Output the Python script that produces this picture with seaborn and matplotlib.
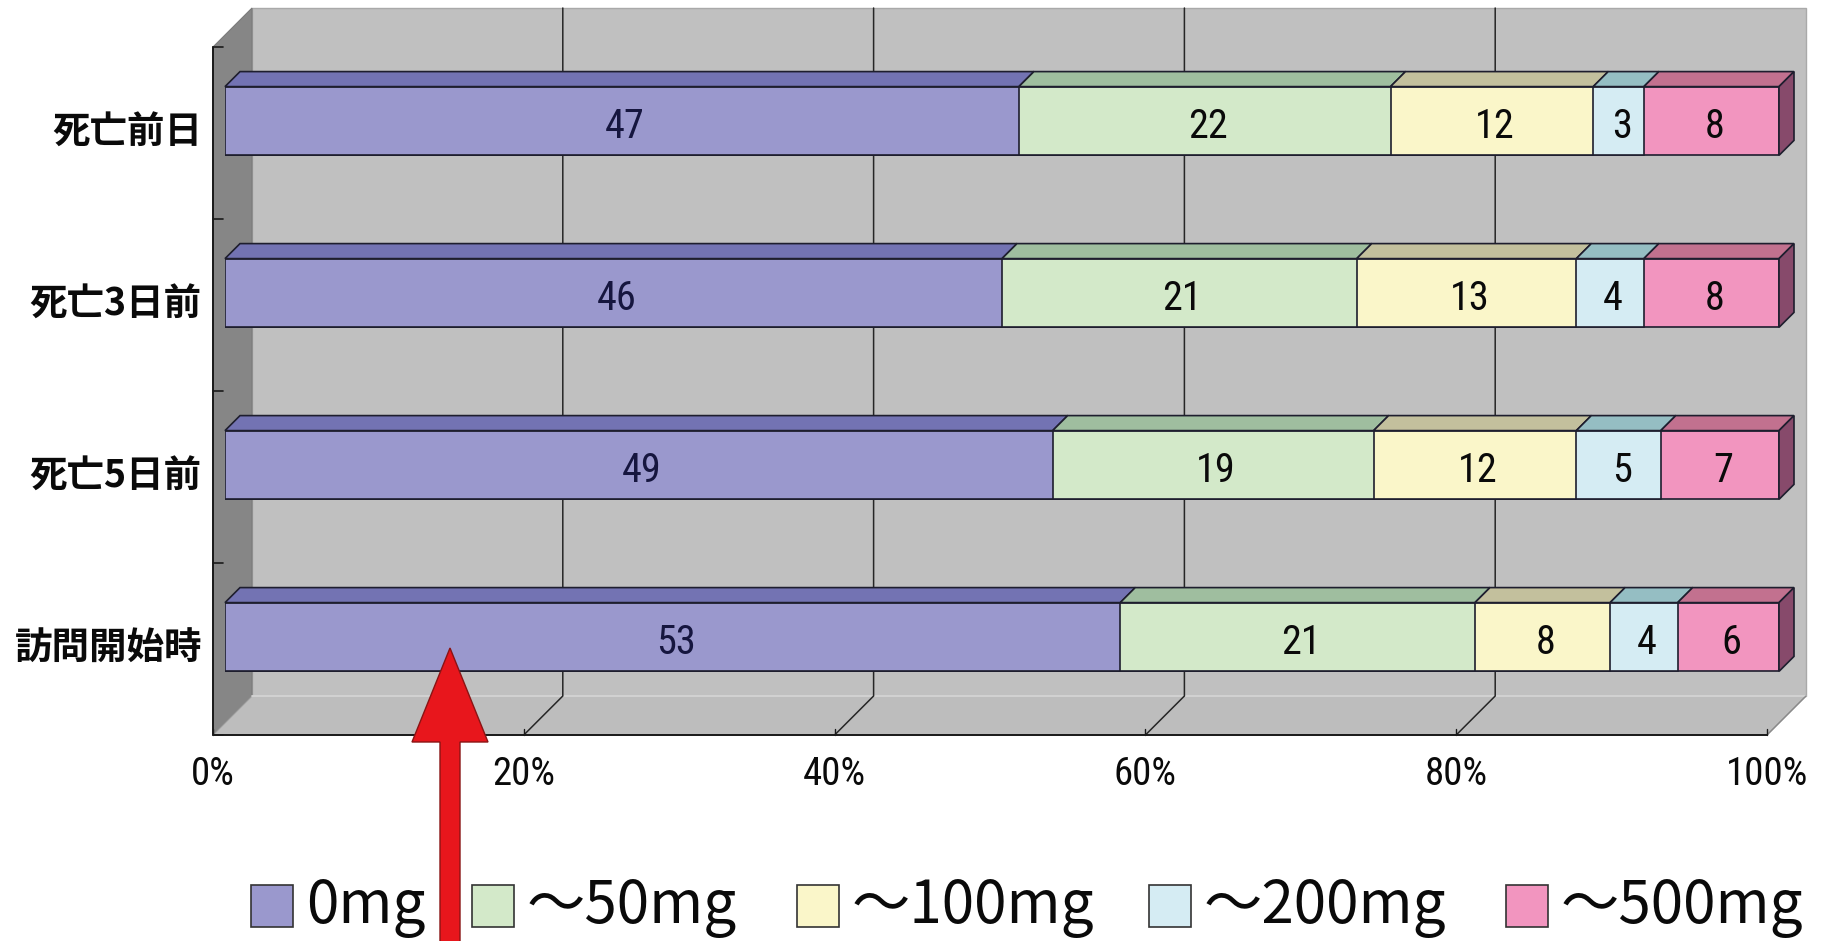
import numpy as np
import pandas as pd
import matplotlib
matplotlib.use("Agg")
import matplotlib.pyplot as plt
import seaborn as sns
from matplotlib.patches import Polygon, Rectangle, FancyArrow
from matplotlib.lines import Line2D
from matplotlib.transforms import IdentityTransform, ScaledTranslation
from matplotlib import font_manager

# ---- data -------------------------------------------------------------
categories = ["死亡前日", "死亡3日前", "死亡5日前", "訪問開始時"]
series = ["0mg", "～50mg", "～100mg", "～200mg", "～500mg"]
dose_0 = [47, 46, 49, 53]
dose_50 = [22, 21, 19, 21]
dose_100 = [12, 13, 12, 8]
dose_200 = [3, 4, 5, 4]
dose_500 = [8, 8, 7, 6]
x_ticks = [0, 20, 40, 60, 80, 100]
x_tick_labels = ["0%", "20%", "40%", "60%", "80%", "100%"]

# ---- styles -----------------------------------------------------------
front_colors = ["#9A98CD", "#D3E9C9", "#FAF6C9", "#D5ECF3", "#F295BF"]
top_colors = ["#7373B3", "#9FBE9F", "#C3C09D", "#95BEC3", "#C2718F"]
side_color = "#874A6B"
label_colors = ["#16163F", "#0A0A0A", "#0A0A0A", "#0A0A0A", "#0A0A0A"]
edge_color = "#1E1E2E"

W, H = 1829, 941
BAR_DEPTH = 15      # px, bar thickness going back
WALL_DEPTH = 27     # px, back wall behind the bar front plane
FLOOR_FRONT = -12   # px, front edge of the floor

sns.set_style("white")
names = {f.name for f in font_manager.fontManager.ttflist}
num_font = "Liberation Sans"
for cand in ["Liberation Sans Narrow", "Roboto Condensed", "Open Sans Condensed",
             "DejaVu Sans Condensed", "Noto Sans Condensed"]:
    if cand in names:
        num_font = cand
        break
cjk_font = "Noto Sans CJK JP"
plt.rcParams["font.family"] = [cjk_font, "DejaVu Sans"]

counts = np.array([dose_0, dose_50, dose_100, dose_200, dose_500], dtype=float).T
totals = counts.sum(axis=1, keepdims=True)
share = counts / totals * 100
cum = share.cumsum(axis=1)
start = cum - share

fig = plt.figure(figsize=(W / 100, H / 100), dpi=100)
fig.patch.set_facecolor("white")
ax = fig.add_axes([225 / W, (H - 723) / H, 1554 / W, 688 / H])

# front faces: cumulative bars, widest first so each segment stays visible
for j in reversed(range(len(series))):
    df = pd.DataFrame({"cat": categories, "cum": cum[:, j]})
    sns.barplot(data=df, x="cum", y="cat", orient="h", color=front_colors[j],
                saturation=1, width=0.4, errorbar=None, edgecolor=edge_color,
                linewidth=1.2, ax=ax, zorder=3)

ax.set_xlim(0, 100)
ax.set_ylim(3.5, -0.5)
ax.set_facecolor("none")
for s in ax.spines.values():
    s.set_visible(False)
ax.set_xlabel("")
ax.set_ylabel("")


def proj(p, y, d):
    X, Y = ax.transData.transform((p, y))
    return (X + d, Y + d)


def poly(points, fc, ec, lw=1.0, z=1):
    patch = Polygon(points, closed=True, facecolor=fc, edgecolor=ec, linewidth=lw,
                    transform=IdentityTransform(), zorder=z, clip_on=False)
    ax.add_patch(patch)


def line(points, color, lw=1.0, z=1):
    xs, ys = zip(*points)
    ax.add_line(Line2D(xs, ys, color=color, linewidth=lw, transform=IdentityTransform(),
                       zorder=z, clip_on=False))


y0, y1 = -0.5, 3.5
# back wall, side wall, floor
poly([proj(0, y0, WALL_DEPTH), proj(100, y0, WALL_DEPTH), proj(100, y1, WALL_DEPTH),
      proj(0, y1, WALL_DEPTH)], "#C0C0C0", "#A9A9A9", 1.0, 0)
poly([proj(0, y0, FLOOR_FRONT), proj(0, y0, WALL_DEPTH), proj(0, y1, WALL_DEPTH),
      proj(0, y1, FLOOR_FRONT)], "#868686", "#7A7A7A", 0.8, 0)
poly([proj(0, y1, FLOOR_FRONT), proj(100, y1, FLOOR_FRONT), proj(100, y1, WALL_DEPTH),
      proj(0, y1, WALL_DEPTH)], "#BDBDBD", "#9A9A9A", 0.8, 0)
line([proj(0, y1, WALL_DEPTH), proj(100, y1, WALL_DEPTH)], "#DADADA", 1.2, 0.5)

# gridlines on the back wall running onto the floor
for p in x_ticks[1:-1]:
    line([proj(p, y0, WALL_DEPTH), proj(p, y1, WALL_DEPTH), proj(p, y1, FLOOR_FRONT)],
         "#262626", 1.1, 1)
line([proj(100, y1, WALL_DEPTH), proj(100, y1, FLOOR_FRONT)], "#8A8A8A", 1.0, 1)

# axis edges and small ticks
line([proj(0, y0, FLOOR_FRONT), proj(0, y1, FLOOR_FRONT), proj(100, y1, FLOOR_FRONT)],
     "#1A1A1A", 1.4, 2)
for k in range(len(categories) + 1):
    X, Y = proj(0, y0 + k, FLOOR_FRONT)
    line([(X, Y), (X + 10, Y)], "#1A1A1A", 1.2, 2)
for p in x_ticks:
    X, Y = proj(p, y1, FLOOR_FRONT)
    line([(X, Y), (X, Y + 6)], "#1A1A1A", 1.0, 2)

# bar tops and the right-hand end face
h = 0.2
for i in range(len(categories)):
    for j in range(len(series)):
        s, e = start[i, j], cum[i, j]
        poly([proj(s, i - h, 0), proj(e, i - h, 0), proj(e, i - h, BAR_DEPTH),
              proj(s, i - h, BAR_DEPTH)], top_colors[j], edge_color, 1.2, 3)
    poly([proj(100, i - h, 0), proj(100, i + h, 0), proj(100, i + h, BAR_DEPTH),
          proj(100, i - h, BAR_DEPTH)], side_color, edge_color, 1.2, 3)

# value labels
for i in range(len(categories)):
    for j in range(len(series)):
        ax.text(start[i, j] + share[i, j] / 2 + 0.2, i + 0.03, f"{int(counts[i, j])}",
                ha="center", va="center", fontsize=29, family=[num_font, "DejaVu Sans"],
                color=label_colors[j], zorder=5)

# tick labels, sitting on the front edge of the floor
ax.set_xticks(x_ticks, x_tick_labels)
ax.tick_params(axis="x", length=0, pad=24, labelsize=28, labelcolor="#0A0A0A")
for lab in ax.get_xticklabels():
    lab.set_family([num_font, "DejaVu Sans"])
    lab.set_transform(lab.get_transform() + ScaledTranslation(FLOOR_FRONT / 100, 0, fig.dpi_scale_trans))
ax.set_yticks(range(len(categories)), categories)
ax.tick_params(axis="y", length=0, pad=8, labelsize=27, labelcolor="#0A0A0A")
for lab in ax.get_yticklabels():
    lab.set_fontweight("bold")
    lab.set_transform(lab.get_transform() + ScaledTranslation(FLOOR_FRONT / 100, -0.07, fig.dpi_scale_trans))

# legend row
box_lefts = [251, 472, 797, 1149, 1506]
box = 42
for j, name in enumerate(series):
    bx = box_lefts[j]
    fig.add_artist(Rectangle((bx, H - 906 - box / 2), box, box, facecolor=front_colors[j],
                             edgecolor="#333333", linewidth=1.2, transform=IdentityTransform()))
    fig.text((bx + box + 13) / W, (H - 923) / H, name, fontsize=42, ha="left", va="baseline",
             color="#0A0A0A", family=[cjk_font, "DejaVu Sans"])

# red arrow pointing up at the first category
fig.add_artist(FancyArrow(450, -5, 0, H - 648 + 5, width=20, head_width=76, head_length=94,
                          length_includes_head=True, facecolor="#E8161C", edgecolor="#8A1414",
                          linewidth=1.0, transform=IdentityTransform(), zorder=10))

fig.savefig("out.png", dpi=100, facecolor="white")
